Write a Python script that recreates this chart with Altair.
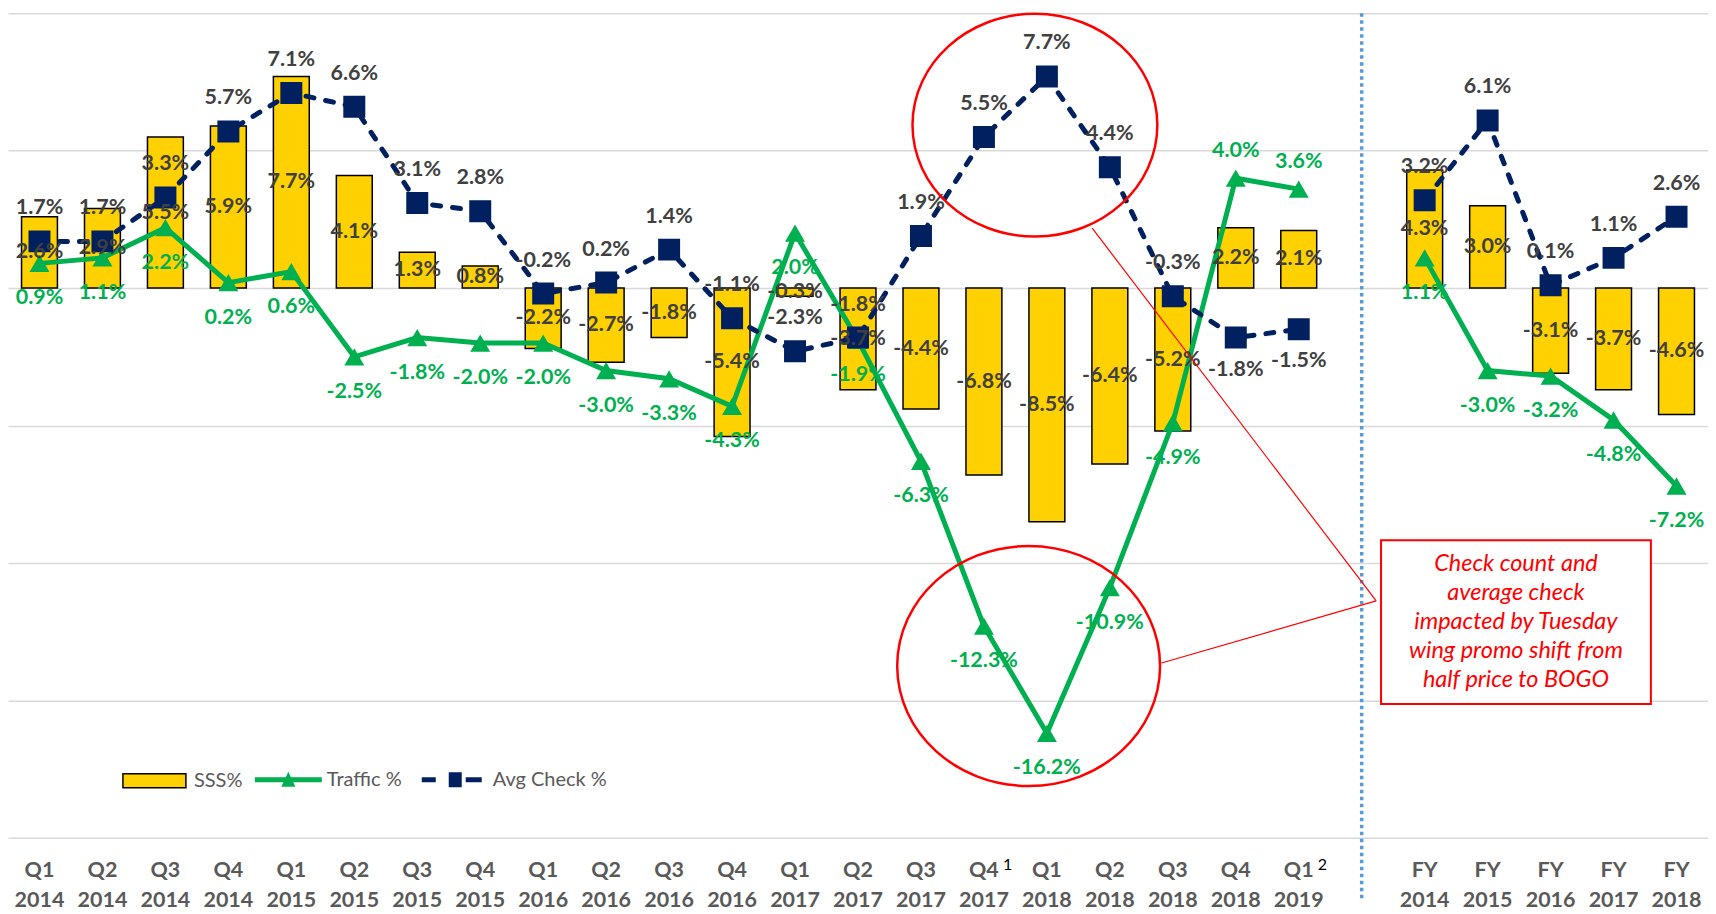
import altair as alt
import pandas as pd

# ---------------- data ----------------
quarters = ["Q1 2014", "Q2 2014", "Q3 2014", "Q4 2014", "Q1 2015", "Q2 2015", "Q3 2015", "Q4 2015",
            "Q1 2016", "Q2 2016", "Q3 2016", "Q4 2016", "Q1 2017", "Q2 2017", "Q3 2017", "Q4 2017",
            "Q1 2018", "Q2 2018", "Q3 2018", "Q4 2018", "Q1 2019"]
years = ["FY 2014", "FY 2015", "FY 2016", "FY 2017", "FY 2018"]

sss_q = [2.6, 2.9, 5.5, 5.9, 7.7, 4.1, 1.3, 0.8, -2.2, -2.7, -1.8, -5.4, -0.3, -3.7, -4.4, -6.8,
         -8.5, -6.4, -5.2, 2.2, 2.1]
traffic_q = [0.9, 1.1, 2.2, 0.2, 0.6, -2.5, -1.8, -2.0, -2.0, -3.0, -3.3, -4.3, 2.0, -1.9, -6.3,
             -12.3, -16.2, -10.9, -4.9, 4.0, 3.6]
check_q = [1.7, 1.7, 3.3, 5.7, 7.1, 6.6, 3.1, 2.8, -0.2, 0.2, 1.4, -1.1, -2.3, -1.8, 1.9, 5.5,
           7.7, 4.4, -0.3, -1.8, -1.5]

sss_fy = [4.3, 3.0, -3.1, -3.7, -4.6]
traffic_fy = [1.1, -3.0, -3.2, -4.8, -7.2]
check_fy = [3.2, 6.1, 0.1, 1.1, 2.6]

check_labels_below = ["Q4 2018", "Q1 2019"]
traffic_labels_above = ["Q4 2018", "Q1 2019"]
footnotes = {"Q4 2017": "1", "Q1 2019": "2"}

gap = "gap"
x_domain = quarters + [gap] + years

note_text = "Check count and\naverage check\nimpacted by Tuesday\nwing promo shift from\nhalf price to BOGO"

# annotation anchors in slot units (x) and percent (y)
ellipse_cx = [16.31, 16.21]
ellipse_cy = [5.93, -13.75]
ellipse_rx = [122.5, 131.5]
ellipse_ratio = [0.91, 0.913]
note_x, note_y = 23.95, -12.15
note_box_w, note_box_ratio = 270, 0.607
conn_x1 = [17.22, 18.32]
conn_y1 = [2.18, -13.64]
conn_x2 = [21.73, 21.73]
conn_y2 = [-11.38, -11.38]

# ---------------- styles ----------------
BAR = "#FFD100"
GREEN = "#00B050"
NAVY = "#002060"
LABEL = "#404040"
AXISC = "#595959"
RED = "#FF0000"
FONT = "Lato"
W, H = 1701, 825


def fmt(v):
    return f"{v:.1f}%"


rows = []
for i, c in enumerate(quarters):
    rows.append(dict(cat=c, idx=i, period="Q", sss=sss_q[i], traffic=traffic_q[i], check=check_q[i]))
for j, c in enumerate(years):
    rows.append(dict(cat=c, idx=100 + j, period="FY", sss=sss_fy[j], traffic=traffic_fy[j], check=check_fy[j]))
df = pd.DataFrame(rows)
df["sss_mid"] = df["sss"] / 2.0
df["sss_lbl"] = df["sss"].map(fmt)
df["traffic_lbl"] = df["traffic"].map(fmt)
df["check_lbl"] = df["check"].map(fmt)
df["check_pos"] = ["below" if c in check_labels_below else "above" for c in df["cat"]]
df["traffic_pos"] = ["above" if c in traffic_labels_above else "below" for c in df["cat"]]

sep_df = pd.DataFrame({"cat": [gap]})
fn_df = pd.DataFrame({"cat": list(footnotes.keys()), "note": list(footnotes.values())})

yscale = alt.Scale(domain=[-20, 10], nice=False, zero=False)
yaxis = alt.Axis(title=None, values=[-20, -15, -10, -5, 0, 5, 10], grid=True, gridColor="#D9D9D9",
                 gridWidth=1.5, labels=False, ticks=False, domain=False)


def Y(field):
    return alt.Y(f"{field}:Q", scale=yscale, axis=yaxis)


X = alt.X("cat:N", sort=x_domain,
          scale=alt.Scale(domain=x_domain, paddingInner=0.43, paddingOuter=0.215),
          axis=alt.Axis(title=None, labelExpr="datum.label == 'gap' ? '' : split(datum.label, ' ')",
                        labelFont=FONT, labelFontWeight="bold", labelFontSize=21.5, labelColor=AXISC,
                        labelPadding=22, labelLineHeight=30, labelBaseline="top", labelAngle=0,
                        labelOverlap=False, ticks=False, tickSize=0, domain=False, grid=False))

base = alt.Chart(df)

leg_common = dict(title=None, orient="none", padding=0, labelFont=FONT, labelFontSize=20,
                  labelColor=AXISC)

bars = base.mark_bar(stroke="black", strokeWidth=1.5).transform_calculate(
    sname="'SSS%'").encode(
    x=X, y=Y("sss"),
    fill=alt.Fill("sname:N", scale=alt.Scale(domain=["SSS%"], range=[BAR]),
                  legend=alt.Legend(legendX=114, legendY=735.5,
                                    symbolType="M-1,-0.222H1V0.222H-1Z", symbolSize=3969,
                                    symbolStrokeColor="black", symbolStrokeWidth=1.5,
                                    labelOffset=7, **leg_common)))

traffic_line = base.mark_line(color=GREEN, strokeWidth=5).encode(
    x=X, y=Y("traffic"), detail="period:N", order="idx:Q")

check_line = base.mark_line(color=NAVY, strokeWidth=5, strokeDash=[8, 12], strokeCap="round").encode(
    x=X, y=Y("check"), detail="period:N", order="idx:Q")

traffic_pts = base.mark_point(filled=True, shape="triangle-up", size=400, opacity=1).transform_calculate(
    tname="'Traffic %'").encode(
    x=X, y=Y("traffic"),
    color=alt.Color("tname:N", scale=alt.Scale(domain=["Traffic %"], range=[GREEN]),
                    legend=alt.Legend(legendX=247, legendY=733.5,
                                      symbolType="M-1,-0.075H1V0.075H-1Z M-0.21,0.21L0,-0.24L0.21,0.21Z",
                                      symbolSize=4489, symbolStrokeWidth=0, labelOffset=5,
                                      **leg_common)))

check_pts = base.mark_point(filled=True, shape="square", size=400, color=NAVY, opacity=1).transform_calculate(
    cname="'Avg Check %'").encode(
    x=X, y=Y("check"),
    stroke=alt.Stroke("cname:N", scale=alt.Scale(domain=["Avg Check %"], range=[NAVY]),
                      legend=alt.Legend(legendX=414, legendY=737,
                                        symbolType="M-1,-0.083H-0.533V0.083H-1Z M-0.1,-0.25H0.333V0.25H-0.1Z M0.467,-0.083H1V0.083H0.467Z",
                                        symbolSize=3600, symbolFillColor=NAVY, symbolStrokeWidth=0,
                                        labelOffset=11, **leg_common)))

txt = dict(font=FONT, fontWeight="bold", fontSize=21.5, baseline="middle", align="center")

sss_lbl = base.mark_text(color=LABEL, **txt).encode(x=X, y=Y("sss_mid"), text="sss_lbl:N")
check_lbl_a = base.transform_filter(alt.datum.check_pos == "above").mark_text(
    color=LABEL, dy=-33, **txt).encode(x=X, y=Y("check"), text="check_lbl:N")
check_lbl_b = base.transform_filter(alt.datum.check_pos == "below").mark_text(
    color=LABEL, dy=32, **txt).encode(x=X, y=Y("check"), text="check_lbl:N")
traffic_lbl_b = base.transform_filter(alt.datum.traffic_pos == "below").mark_text(
    color=GREEN, dy=35, **txt).encode(x=X, y=Y("traffic"), text="traffic_lbl:N")
traffic_lbl_a = base.transform_filter(alt.datum.traffic_pos == "above").mark_text(
    color=GREEN, dy=-27, **txt).encode(x=X, y=Y("traffic"), text="traffic_lbl:N")

separator = alt.Chart(sep_df).mark_rule(color="#5B9BD5", strokeWidth=3.5, strokeDash=[3.5, 3.5]).encode(
    x=X, y=alt.value(0), y2=alt.value(886))

supers = alt.Chart(fn_df).mark_text(font=FONT, fontSize=16, color="black", align="left",
                                    baseline="middle", dx=19).encode(
    x=X, y=alt.value(H + 27), text="note:N")

main = alt.layer(bars, traffic_line, check_line, traffic_pts, check_pts,
                 sss_lbl, check_lbl_a, check_lbl_b, traffic_lbl_b, traffic_lbl_a,
                 separator, supers)

# ---------------- annotations ----------------
AXS = alt.Scale(domain=[0, len(x_domain)], nice=False, zero=False)


def AX(field):
    return alt.X(f"{field}:Q", scale=AXS, axis=None)


ell_df = pd.DataFrame({
    "cx": ellipse_cx, "cy": ellipse_cy,
    "path": [f"M-1,0A1,{r},0,1,0,1,0A1,{r},0,1,0,-1,0Z" for r in ellipse_ratio],
    "size": [(2 * rx) ** 2 for rx in ellipse_rx],
})
ellipses = alt.Chart(ell_df).mark_point(filled=False, color=RED, strokeWidth=2.5, opacity=1).encode(
    x=AX("cx"), y=Y("cy"), shape=alt.Shape("path:N", scale=None), size=alt.Size("size:Q", scale=None))

conn_df = pd.DataFrame({"x1": conn_x1, "y1": conn_y1, "x2": conn_x2, "y2": conn_y2})
connectors = alt.Chart(conn_df).mark_rule(color=RED, strokeWidth=1.2).encode(
    x=AX("x1"), y=Y("y1"), x2="x2:Q", y2="y2:Q")

note_df = pd.DataFrame({"x": [note_x], "y": [note_y], "text": [note_text]})
box = alt.Chart(note_df).mark_point(
    filled=True, fill="white", stroke=RED, strokeWidth=2, opacity=1,
    shape=f"M-1,-{note_box_ratio}H1V{note_box_ratio}H-1Z", size=note_box_w ** 2).encode(
    x=AX("x"), y=Y("y"))
note = alt.Chart(note_df).mark_text(font=FONT, fontStyle="italic", fontSize=23.5, color=RED,
                                    lineHeight=29, align="center", baseline="middle", dy=-58,
                                    lineBreak="\n").encode(x=AX("x"), y=Y("y"), text="text:N")

annot = alt.layer(ellipses, connectors, box, note)

chart = alt.layer(main, annot).resolve_scale(x="independent").properties(
    width=W, height=H, padding=0
).configure(font=FONT).configure_view(stroke=None)

chart.save("out.html", embed_options={"renderer": "svg", "actions": False})
